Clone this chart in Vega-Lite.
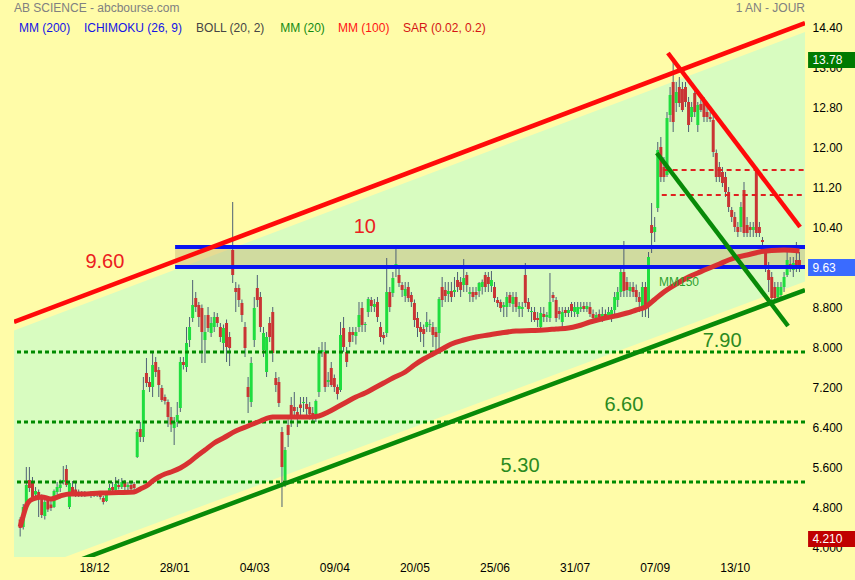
{
"$schema": "https://vega.github.io/schema/vega-lite/v6.json",
"width": 791, "height": 557,
"autosize": {"type": "none"},
"padding": {"left": 14, "top": 0, "right": 50, "bottom": 23},
"background": "#FFFCA8",
"config": {"view": {"stroke": null}, "font": "Liberation Sans", "axis": {"grid": false, "domain": false, "ticks": false, "labelFont": "Liberation Sans", "labelFontSize": 12, "labelColor": "#000000"}},
"resolve": {"axis": {"x": "independent", "y": "independent"}, "scale": {"color": "independent"}},
"datasets": {
"candles": [
{"i":0,"o":4.55,"h":4.6,"l":4.21,"c":4.38},{"i":1,"o":4.4,"h":4.86,"l":4.35,"c":4.8},{"i":2,"o":4.8,"h":5.6,"l":4.75,"c":5.24},{"i":3,"o":5.34,"h":5.6,"l":5.1,"c":5.18},{"i":4,"o":5.3,"h":5.4,"l":4.95,"c":5.0},{"i":5,"o":5.05,"h":5.2,"l":5.0,"c":5.12},{"i":6,"o":5.1,"h":5.15,"l":4.6,"c":4.95},{"i":7,"o":5.0,"h":5.05,"l":4.58,"c":4.64},{"i":8,"o":4.62,"h":4.95,"l":4.55,"c":4.9},{"i":9,"o":4.95,"h":5.0,"l":4.7,"c":4.75},
{"i":10,"o":4.85,"h":4.92,"l":4.72,"c":4.78},{"i":11,"o":4.8,"h":5.15,"l":4.78,"c":5.12},{"i":12,"o":5.1,"h":5.3,"l":5.05,"c":5.2},{"i":13,"o":5.18,"h":5.35,"l":5.1,"c":5.25},{"i":14,"o":5.3,"h":5.62,"l":5.25,"c":5.34},{"i":15,"o":5.56,"h":5.64,"l":5.2,"c":5.24},{"i":16,"o":4.8,"h":5.3,"l":4.76,"c":5.28},{"i":17,"o":5.2,"h":5.32,"l":5.05,"c":5.1},{"i":18,"o":5.15,"h":5.32,"l":5.0,"c":5.05},{"i":19,"o":5.1,"h":5.15,"l":5.0,"c":5.05},
{"i":20,"o":5.05,"h":5.12,"l":5.0,"c":5.08},{"i":21,"o":5.08,"h":5.12,"l":5.0,"c":5.05},{"i":22,"o":5.05,"h":5.1,"l":5.02,"c":5.07},{"i":23,"o":5.08,"h":5.12,"l":4.98,"c":5.02},{"i":24,"o":5.02,"h":5.1,"l":5.0,"c":5.06},{"i":25,"o":5.06,"h":5.1,"l":5.0,"c":5.04},{"i":26,"o":5.04,"h":5.08,"l":4.95,"c":5.0},{"i":27,"o":4.98,"h":5.02,"l":4.85,"c":4.9},{"i":28,"o":4.92,"h":5.12,"l":4.9,"c":5.1},{"i":29,"o":5.1,"h":5.26,"l":5.05,"c":5.18},
{"i":30,"o":5.2,"h":5.3,"l":5.1,"c":5.14},{"i":31,"o":5.14,"h":5.4,"l":5.1,"c":5.26},{"i":32,"o":5.24,"h":5.36,"l":5.15,"c":5.2},{"i":33,"o":5.2,"h":5.38,"l":5.16,"c":5.3},{"i":34,"o":5.3,"h":5.34,"l":5.1,"c":5.2},{"i":35,"o":5.2,"h":5.3,"l":5.12,"c":5.24},{"i":36,"o":5.24,"h":5.3,"l":5.1,"c":5.16},{"i":37,"o":5.26,"h":5.3,"l":5.12,"c":5.18},{"i":38,"o":5.8,"h":6.36,"l":5.78,"c":6.3},{"i":39,"o":6.36,"h":6.5,"l":6.1,"c":6.2},
{"i":40,"o":6.2,"h":7.4,"l":6.1,"c":7.14},{"i":41,"o":7.48,"h":7.78,"l":7.2,"c":7.28},{"i":42,"o":7.3,"h":7.4,"l":7.1,"c":7.2},{"i":43,"o":7.2,"h":7.9,"l":7.0,"c":7.64},{"i":44,"o":7.7,"h":7.8,"l":7.4,"c":7.5},{"i":45,"o":7.54,"h":7.6,"l":7.0,"c":7.24},{"i":46,"o":7.18,"h":7.24,"l":6.9,"c":6.94},{"i":47,"o":7.0,"h":7.05,"l":6.85,"c":6.92},{"i":48,"o":6.9,"h":6.95,"l":6.4,"c":6.6},{"i":49,"o":6.6,"h":6.8,"l":6.3,"c":6.45},
{"i":50,"o":6.38,"h":6.6,"l":6.04,"c":6.5},{"i":51,"o":6.5,"h":6.9,"l":6.4,"c":6.64},{"i":52,"o":6.78,"h":7.8,"l":6.7,"c":7.7},{"i":53,"o":7.7,"h":7.8,"l":7.55,"c":7.64},{"i":54,"o":7.6,"h":8.4,"l":7.5,"c":8.08},{"i":55,"o":8.14,"h":8.6,"l":8.0,"c":8.4},{"i":56,"o":8.58,"h":9.34,"l":8.5,"c":8.84},{"i":57,"o":8.98,"h":9.1,"l":8.7,"c":8.8},{"i":58,"o":8.84,"h":8.9,"l":8.4,"c":8.6},{"i":59,"o":8.78,"h":8.85,"l":7.68,"c":8.3},
{"i":60,"o":8.14,"h":8.64,"l":7.68,"c":8.3},{"i":61,"o":8.64,"h":8.8,"l":8.3,"c":8.38},{"i":62,"o":8.28,"h":8.6,"l":8.2,"c":8.48},{"i":63,"o":8.4,"h":8.7,"l":8.3,"c":8.6},{"i":64,"o":8.6,"h":8.68,"l":8.4,"c":8.48},{"i":65,"o":8.4,"h":8.48,"l":8.1,"c":8.2},{"i":66,"o":8.08,"h":8.45,"l":7.9,"c":8.38},{"i":67,"o":8.48,"h":8.55,"l":7.7,"c":8.0},{"i":68,"o":8.2,"h":8.3,"l":7.62,"c":7.98},{"i":69,"o":9.94,"h":10.9,"l":9.28,"c":9.44},
{"i":70,"o":9.18,"h":9.3,"l":8.7,"c":9.1},{"i":71,"o":9.18,"h":9.25,"l":8.8,"c":8.94},{"i":72,"o":8.88,"h":8.95,"l":8.5,"c":8.64},{"i":73,"o":8.4,"h":8.5,"l":7.8,"c":7.98},{"i":74,"o":7.2,"h":7.4,"l":6.68,"c":7.0},{"i":75,"o":6.9,"h":7.8,"l":6.8,"c":7.68},{"i":76,"o":8.14,"h":9.0,"l":8.0,"c":8.78},{"i":77,"o":9.18,"h":9.44,"l":8.8,"c":8.94},{"i":78,"o":9.0,"h":9.1,"l":8.3,"c":8.4},{"i":79,"o":7.94,"h":8.4,"l":7.8,"c":8.28},
{"i":80,"o":7.5,"h":8.3,"l":7.4,"c":8.2},{"i":81,"o":8.48,"h":8.6,"l":8.1,"c":8.2},{"i":82,"o":8.7,"h":8.8,"l":7.7,"c":7.88},{"i":83,"o":7.38,"h":7.5,"l":7.1,"c":7.24},{"i":84,"o":7.3,"h":7.4,"l":6.8,"c":6.88},{"i":85,"o":6.3,"h":6.4,"l":4.8,"c":5.6},{"i":86,"o":5.34,"h":6.0,"l":5.2,"c":5.94},{"i":87,"o":6.44,"h":6.55,"l":6.0,"c":6.24},{"i":88,"o":6.84,"h":7.0,"l":6.4,"c":6.58},{"i":89,"o":6.8,"h":7.1,"l":6.6,"c":6.72},
{"i":90,"o":6.7,"h":6.8,"l":6.4,"c":6.62},{"i":91,"o":6.85,"h":7.0,"l":6.6,"c":6.78},{"i":92,"o":6.88,"h":7.0,"l":6.7,"c":6.9},{"i":93,"o":6.86,"h":7.0,"l":6.6,"c":6.76},{"i":94,"o":6.8,"h":6.9,"l":6.55,"c":6.66},{"i":95,"o":6.68,"h":6.8,"l":6.5,"c":6.6},{"i":96,"o":6.64,"h":6.95,"l":6.5,"c":6.92},{"i":97,"o":7.1,"h":8.0,"l":7.0,"c":7.88},{"i":98,"o":7.9,"h":8.1,"l":7.8,"c":7.94},{"i":99,"o":7.9,"h":8.1,"l":7.1,"c":7.2},
{"i":100,"o":7.3,"h":7.5,"l":7.2,"c":7.34},{"i":101,"o":7.58,"h":7.7,"l":7.2,"c":7.24},{"i":102,"o":7.38,"h":7.45,"l":7.1,"c":7.2},{"i":103,"o":7.2,"h":7.25,"l":6.95,"c":7.06},{"i":104,"o":7.14,"h":8.5,"l":7.1,"c":8.24},{"i":105,"o":8.38,"h":8.6,"l":7.9,"c":8.0},{"i":106,"o":7.9,"h":8.0,"l":7.6,"c":7.7},{"i":107,"o":8.3,"h":8.4,"l":8.0,"c":8.1},{"i":108,"o":8.3,"h":8.4,"l":8.1,"c":8.24},{"i":109,"o":8.22,"h":8.4,"l":8.05,"c":8.3},
{"i":110,"o":8.4,"h":8.9,"l":8.3,"c":8.64},{"i":111,"o":8.78,"h":8.9,"l":8.3,"c":8.44},{"i":112,"o":8.44,"h":8.5,"l":8.3,"c":8.46},{"i":113,"o":8.7,"h":9.0,"l":8.6,"c":8.96},{"i":114,"o":8.94,"h":9.0,"l":8.7,"c":8.82},{"i":115,"o":8.8,"h":8.96,"l":8.7,"c":8.86},{"i":116,"o":8.9,"h":9.0,"l":8.5,"c":8.6},{"i":117,"o":8.4,"h":8.5,"l":8.1,"c":8.2},{"i":118,"o":8.24,"h":8.3,"l":8.05,"c":8.18},{"i":119,"o":8.28,"h":9.78,"l":8.2,"c":9.1},
{"i":120,"o":9.1,"h":9.2,"l":8.7,"c":8.8},{"i":121,"o":9.08,"h":9.5,"l":9.0,"c":9.38},{"i":122,"o":9.6,"h":9.98,"l":9.4,"c":9.66},{"i":123,"o":9.44,"h":9.6,"l":9.2,"c":9.28},{"i":124,"o":9.24,"h":9.3,"l":9.0,"c":9.14},{"i":125,"o":9.02,"h":9.3,"l":8.9,"c":9.16},{"i":126,"o":9.2,"h":9.3,"l":8.9,"c":8.98},{"i":127,"o":9.04,"h":9.1,"l":8.8,"c":8.9},{"i":128,"o":8.88,"h":8.95,"l":8.4,"c":8.54},{"i":129,"o":8.58,"h":8.7,"l":8.2,"c":8.38},
{"i":130,"o":8.4,"h":8.5,"l":8.1,"c":8.3},{"i":131,"o":8.36,"h":8.45,"l":8.0,"c":8.26},{"i":132,"o":8.4,"h":8.7,"l":8.3,"c":8.5},{"i":133,"o":8.44,"h":8.55,"l":8.3,"c":8.46},{"i":134,"o":8.4,"h":8.5,"l":8.0,"c":8.24},{"i":135,"o":8.3,"h":8.4,"l":7.9,"c":8.2},{"i":136,"o":8.28,"h":9.0,"l":7.9,"c":8.96},{"i":137,"o":9.2,"h":9.4,"l":8.8,"c":8.94},{"i":138,"o":9.14,"h":9.3,"l":8.9,"c":9.02},{"i":139,"o":9.06,"h":9.3,"l":8.9,"c":9.12},
{"i":140,"o":9.12,"h":9.3,"l":8.9,"c":9.0},{"i":141,"o":9.1,"h":9.4,"l":9.0,"c":9.14},{"i":142,"o":9.34,"h":9.5,"l":9.1,"c":9.2},{"i":143,"o":9.3,"h":9.4,"l":9.0,"c":9.14},{"i":144,"o":9.24,"h":9.76,"l":9.1,"c":9.38},{"i":145,"o":9.44,"h":9.5,"l":9.1,"c":9.24},{"i":146,"o":9.06,"h":9.2,"l":8.9,"c":9.1},{"i":147,"o":9.1,"h":9.2,"l":8.9,"c":9.0},{"i":148,"o":9.1,"h":9.2,"l":8.95,"c":9.04},{"i":149,"o":9.12,"h":9.3,"l":9.0,"c":9.28},
{"i":150,"o":9.2,"h":9.35,"l":9.05,"c":9.3},{"i":151,"o":9.44,"h":9.5,"l":9.1,"c":9.2},{"i":152,"o":9.4,"h":9.5,"l":9.1,"c":9.26},{"i":153,"o":9.22,"h":9.52,"l":9.1,"c":9.34},{"i":154,"o":9.2,"h":9.3,"l":8.9,"c":8.98},{"i":155,"o":8.94,"h":9.0,"l":8.8,"c":8.88},{"i":156,"o":8.9,"h":8.95,"l":8.7,"c":8.78},{"i":157,"o":8.8,"h":8.9,"l":8.6,"c":8.84},{"i":158,"o":8.8,"h":9.1,"l":8.6,"c":9.0},{"i":159,"o":9.04,"h":9.1,"l":8.8,"c":8.88},
{"i":160,"o":8.86,"h":9.1,"l":8.7,"c":9.0},{"i":161,"o":9.0,"h":9.1,"l":8.7,"c":8.8},{"i":162,"o":8.76,"h":8.9,"l":8.6,"c":8.82},{"i":163,"o":8.76,"h":8.9,"l":8.6,"c":8.8},{"i":164,"o":9.44,"h":9.68,"l":8.8,"c":8.88},{"i":165,"o":8.9,"h":8.98,"l":8.7,"c":8.76},{"i":166,"o":8.7,"h":8.8,"l":8.5,"c":8.72},{"i":167,"o":8.7,"h":8.8,"l":8.5,"c":8.54},{"i":168,"o":8.58,"h":8.7,"l":8.4,"c":8.54},{"i":169,"o":8.4,"h":8.8,"l":8.3,"c":8.68},
{"i":170,"o":8.66,"h":8.8,"l":8.5,"c":8.6},{"i":171,"o":8.6,"h":8.7,"l":8.5,"c":8.64},{"i":172,"o":8.58,"h":9.48,"l":8.5,"c":8.9},{"i":173,"o":9.04,"h":9.1,"l":8.9,"c":8.98},{"i":174,"o":8.94,"h":9.0,"l":8.5,"c":8.58},{"i":175,"o":8.72,"h":8.8,"l":8.55,"c":8.66},{"i":176,"o":8.5,"h":8.8,"l":8.4,"c":8.7},{"i":177,"o":8.74,"h":8.8,"l":8.6,"c":8.68},{"i":178,"o":8.68,"h":8.8,"l":8.6,"c":8.74},{"i":179,"o":8.86,"h":8.9,"l":8.6,"c":8.72},
{"i":180,"o":8.7,"h":8.9,"l":8.6,"c":8.8},{"i":181,"o":8.66,"h":8.9,"l":8.6,"c":8.8},{"i":182,"o":8.76,"h":8.9,"l":8.7,"c":8.8},{"i":183,"o":8.82,"h":8.9,"l":8.7,"c":8.76},{"i":184,"o":8.76,"h":8.9,"l":8.7,"c":8.82},{"i":185,"o":8.8,"h":8.9,"l":8.6,"c":8.66},{"i":186,"o":8.66,"h":8.75,"l":8.5,"c":8.58},{"i":187,"o":8.56,"h":8.7,"l":8.5,"c":8.64},{"i":188,"o":8.66,"h":8.75,"l":8.55,"c":8.6},{"i":189,"o":8.6,"h":8.8,"l":8.5,"c":8.66},
{"i":190,"o":8.66,"h":8.75,"l":8.55,"c":8.58},{"i":191,"o":8.6,"h":8.8,"l":8.55,"c":8.7},{"i":192,"o":8.64,"h":8.8,"l":8.5,"c":8.74},{"i":193,"o":8.74,"h":9.1,"l":8.6,"c":9.0},{"i":194,"o":8.94,"h":9.2,"l":8.8,"c":9.1},{"i":195,"o":9.1,"h":9.6,"l":9.0,"c":9.5},{"i":196,"o":9.5,"h":10.12,"l":9.0,"c":9.12},{"i":197,"o":9.3,"h":9.4,"l":9.0,"c":9.14},{"i":198,"o":9.12,"h":9.3,"l":9.0,"c":9.2},{"i":199,"o":9.2,"h":9.3,"l":9.0,"c":9.1},
{"i":200,"o":9.14,"h":9.25,"l":8.9,"c":9.0},{"i":201,"o":9.0,"h":9.1,"l":8.7,"c":8.9},{"i":202,"o":8.78,"h":9.3,"l":8.6,"c":9.2},{"i":203,"o":9.2,"h":9.3,"l":8.6,"c":8.84},{"i":204,"o":8.84,"h":9.9,"l":8.58,"c":9.8},{"i":205,"o":10.44,"h":10.88,"l":9.88,"c":10.28},{"i":206,"o":10.3,"h":10.6,"l":10.1,"c":10.4},{"i":207,"o":10.78,"h":12.1,"l":10.7,"c":11.94},{"i":208,"o":12.0,"h":12.2,"l":11.3,"c":11.4},{"i":209,"o":11.6,"h":11.8,"l":11.3,"c":11.4},
{"i":210,"o":11.44,"h":12.7,"l":11.4,"c":12.58},{"i":211,"o":12.64,"h":13.2,"l":12.5,"c":13.04},{"i":212,"o":13.3,"h":13.78,"l":12.3,"c":12.5},{"i":213,"o":12.88,"h":13.3,"l":12.7,"c":13.1},{"i":214,"o":13.2,"h":13.4,"l":12.8,"c":12.88},{"i":215,"o":13.16,"h":13.3,"l":12.7,"c":12.74},{"i":216,"o":13.2,"h":13.3,"l":12.8,"c":12.9},{"i":217,"o":12.9,"h":13.0,"l":12.3,"c":12.44},{"i":218,"o":12.6,"h":12.9,"l":12.5,"c":12.8},{"i":219,"o":13.08,"h":13.2,"l":12.6,"c":12.7},
{"i":220,"o":12.44,"h":12.9,"l":12.3,"c":12.84},{"i":221,"o":12.86,"h":12.95,"l":12.7,"c":12.74},{"i":222,"o":12.94,"h":13.0,"l":12.5,"c":12.6},{"i":223,"o":12.7,"h":12.8,"l":12.5,"c":12.6},{"i":224,"o":12.6,"h":12.7,"l":12.5,"c":12.56},{"i":225,"o":12.54,"h":12.7,"l":11.8,"c":11.9},{"i":226,"o":11.88,"h":11.95,"l":11.3,"c":11.4},{"i":227,"o":11.6,"h":11.7,"l":11.3,"c":11.4},{"i":228,"o":11.5,"h":11.6,"l":11.2,"c":11.28},{"i":229,"o":11.4,"h":11.5,"l":11.0,"c":11.1},
{"i":230,"o":11.1,"h":11.2,"l":10.7,"c":10.8},{"i":231,"o":10.74,"h":10.8,"l":10.5,"c":10.6},{"i":232,"o":10.6,"h":10.7,"l":10.3,"c":10.4},{"i":233,"o":10.4,"h":10.5,"l":10.2,"c":10.3},{"i":234,"o":10.4,"h":10.9,"l":10.3,"c":10.8},{"i":235,"o":11.14,"h":11.3,"l":10.2,"c":10.28},{"i":236,"o":10.44,"h":10.6,"l":10.2,"c":10.28},{"i":237,"o":10.4,"h":10.5,"l":10.2,"c":10.34},{"i":238,"o":10.34,"h":10.5,"l":10.2,"c":10.4},{"i":239,"o":11.54,"h":11.6,"l":10.2,"c":10.28},
{"i":240,"o":10.4,"h":10.5,"l":10.2,"c":10.28},{"i":241,"o":10.14,"h":10.2,"l":10.0,"c":10.1},{"i":242,"o":9.88,"h":10.0,"l":9.5,"c":9.6},{"i":243,"o":9.54,"h":9.7,"l":9.1,"c":9.34},{"i":244,"o":9.4,"h":9.5,"l":8.9,"c":8.98},{"i":245,"o":9.2,"h":9.3,"l":8.9,"c":8.98},{"i":246,"o":9.0,"h":9.3,"l":8.9,"c":9.2},{"i":247,"o":9.04,"h":9.3,"l":8.95,"c":9.2},{"i":248,"o":9.2,"h":9.5,"l":9.1,"c":9.4},{"i":249,"o":9.44,"h":9.9,"l":9.4,"c":9.74},
{"i":250,"o":9.66,"h":9.8,"l":9.5,"c":9.56},{"i":251,"o":9.54,"h":9.8,"l":9.4,"c":9.68},{"i":252,"o":9.74,"h":10.1,"l":9.5,"c":9.6},{"i":253,"o":9.74,"h":9.9,"l":9.5,"c":9.63}
],
"mm": [
{"i":0,"v":4.4},{"i":1,"v":4.62},{"i":2,"v":4.82},{"i":3,"v":4.92},{"i":5,"v":4.98},{"i":7,"v":5.0},{"i":10,"v":4.96},{"i":13,"v":5.02},{"i":16,"v":5.06},{"i":20,"v":5.06},{"i":26,"v":5.08},{"i":32,"v":5.09},{"i":37,"v":5.1},{"i":39,"v":5.16},{"i":41,"v":5.22},{"i":43,"v":5.32},{"i":45,"v":5.4},{"i":47,"v":5.46},{"i":49,"v":5.5},{"i":52,"v":5.58},{"i":55,"v":5.7},{"i":57,"v":5.8},{"i":60,"v":5.94},{"i":63,"v":6.08},{"i":66,"v":6.18},{"i":70,"v":6.32},{"i":74,"v":6.42},{"i":78,"v":6.52},{"i":82,"v":6.6},{"i":86,"v":6.6},{"i":90,"v":6.6},{"i":94,"v":6.6},{"i":97,"v":6.62},{"i":100,"v":6.7},{"i":103,"v":6.8},{"i":106,"v":6.9},{"i":109,"v":7.0},{"i":112,"v":7.08},{"i":115,"v":7.18},{"i":118,"v":7.28},{"i":121,"v":7.38},{"i":125,"v":7.5},{"i":128,"v":7.64},{"i":131,"v":7.76},{"i":134,"v":7.86},{"i":137,"v":7.96},{"i":140,"v":8.06},{"i":144,"v":8.14},{"i":148,"v":8.2},{"i":152,"v":8.24},{"i":156,"v":8.28},{"i":161,"v":8.32},{"i":166,"v":8.33},{"i":170,"v":8.34},{"i":174,"v":8.36},{"i":178,"v":8.38},{"i":181,"v":8.42},{"i":185,"v":8.5},{"i":190,"v":8.58},{"i":194,"v":8.63},{"i":197,"v":8.68},{"i":200,"v":8.74},{"i":203,"v":8.8},{"i":206,"v":8.95},{"i":209,"v":9.1},{"i":213,"v":9.26},{"i":217,"v":9.4},{"i":220,"v":9.48},{"i":223,"v":9.56},{"i":227,"v":9.66},{"i":230,"v":9.74},{"i":233,"v":9.8},{"i":236,"v":9.84},{"i":240,"v":9.9},{"i":244,"v":9.93},{"i":248,"v":9.94},{"i":253,"v":9.92}
],
"fill": [{"i":-2,"top":8.33,"bot":3.42},{"i":254.8,"top":14.3,"bot":9.31}],
"band": [{"a":50.3,"b":254.8,"lo":9.6,"hi":10.0}],
"blue": [{"a":50.3,"b":254.8,"lvl":10.0},{"a":50.3,"b":254.8,"lvl":9.6}],
"greendash": [{"lvl":7.9},{"lvl":6.5},{"lvl":5.3}],
"reddash": [{"a":208.9,"b":254.8,"lvl":11.54},{"a":208.3,"b":254.8,"lvl":11.04}],
"redlines": [{"a":-2,"pa":8.5,"b":254.8,"pb":14.48},{"a":210.3,"pa":13.88,"b":253.2,"pb":10.4}],
"greenlines": [{"a":-2,"pa":3.25,"b":254.8,"pb":9.14},{"a":206.7,"pa":11.88,"b":249.3,"pb":8.42}],
"redtext": [{"t":"9.60","x":27.5,"y":9.7},{"t":"10","x":111.9,"y":10.4}],
"greentext": [{"t":"7.90","x":227.9,"y":8.12},{"t":"6.60","x":196,"y":6.84},{"t":"5.30","x":162.3,"y":5.62}],
"mm150": [{"t":"MM150","x":213.9,"y":9.3}],
"header": [{"t":"AB SCIENCE - abcbourse.com","x":-2,"y":14.78},{"t":"MM (200)","x":-0.4,"y":14.38},{"t":"ICHIMOKU (26, 9)","x":20.7,"y":14.38},{"t":"BOLL (20, 2)","x":57.1,"y":14.38},{"t":"MM (20)","x":84.4,"y":14.38},{"t":"MM (100)","x":103.2,"y":14.38},{"t":"SAR (0.02, 0.2)","x":124.3,"y":14.38}],
"period": [{"t":"1 AN - JOUR","x":254.8,"y":14.78}],
"boxes": [{"label":"13.78","hi":13.9,"lo":13.58,"mid":13.74},{"label":"9.63","hi":9.76,"lo":9.42,"mid":9.59},{"label":"4.210","hi":4.32,"lo":4.0,"mid":4.16}]
},
"layer": [
{"data":{"name":"fill"},"mark":{"type":"area","color":"#D8FCC0","clip":true},
 "encoding":{
  "x":{"field":"i","type":"quantitative","scale":{"domain":[-2,254.8],"nice":false,"zero":false,"padding":0},
   "axis":{"orient":"bottom","title":null,"values":[24,50,76,102,128,154,180,206,232],"labelPadding":5,
    "labelExpr":"datum.value==24?'18/12':datum.value==50?'28/01':datum.value==76?'04/03':datum.value==102?'09/04':datum.value==128?'20/05':datum.value==154?'25/06':datum.value==180?'31/07':datum.value==206?'07/09':'13/10'"}},
  "y":{"field":"top","type":"quantitative","scale":{"domain":[3.8,14.94],"nice":false,"zero":false,"padding":0},
   "axis":{"orient":"right","title":null,"values":[4,4.8,5.6,6.4,7.2,8,8.8,9.6,10.4,11.2,12,12.8,13.6,14.4],"labelPadding":7,"labelAlign":"left",
    "labelExpr":"datum.value >= 10 ? format(datum.value, '.2f') : format(datum.value, '.3f')"}},
  "y2":{"field":"bot"}}},
{"data":{"name":"band"},"mark":{"type":"rect","color":"#C8B478","opacity":0.45},
 "encoding":{"x":{"field":"a","type":"quantitative","axis":null},"x2":{"field":"b"},"y":{"field":"hi","type":"quantitative","axis":null},"y2":{"field":"lo"}}},
{"data":{"name":"candles"},"mark":{"type":"rule","color":"#4E6074","strokeWidth":1},
 "encoding":{"x":{"field":"i","type":"quantitative","axis":null},"y":{"field":"l","type":"quantitative","axis":null},"y2":{"field":"h"}}},
{"data":{"name":"candles"},"mark":{"type":"bar","size":3},
 "encoding":{"x":{"field":"i","type":"quantitative","axis":null},"y":{"field":"o","type":"quantitative","axis":null},"y2":{"field":"c"},
  "color":{"condition":{"test":"datum.c >= datum.o","value":"#1FDD3F"},"value":"#C93434"}}},
{"data":{"name":"greendash"},"mark":{"type":"rule","color":"#008A00","strokeWidth":3,"strokeDash":[4,3]},
 "encoding":{"y":{"field":"lvl","type":"quantitative","axis":null}}},
{"data":{"name":"reddash"},"mark":{"type":"rule","color":"#E02020","strokeWidth":2,"strokeDash":[5,4]},
 "encoding":{"x":{"field":"a","type":"quantitative","axis":null},"x2":{"field":"b"},"y":{"field":"lvl","type":"quantitative","axis":null}}},
{"data":{"name":"blue"},"mark":{"type":"rule","color":"#0A14F0","strokeWidth":4},
 "encoding":{"x":{"field":"a","type":"quantitative","axis":null},"x2":{"field":"b"},"y":{"field":"lvl","type":"quantitative","axis":null}}},
{"data":{"name":"mm"},"mark":{"type":"line","color":"#D83232","strokeWidth":5,"interpolate":"monotone","clip":true},
 "encoding":{"x":{"field":"i","type":"quantitative","axis":null},"y":{"field":"v","type":"quantitative","axis":null}}},
{"data":{"name":"redlines"},"mark":{"type":"rule","color":"#FF0A0A","strokeWidth":4.5,"clip":true},
 "encoding":{"x":{"field":"a","type":"quantitative","axis":null},"x2":{"field":"b"},"y":{"field":"pa","type":"quantitative","axis":null},"y2":{"field":"pb"}}},
{"data":{"name":"greenlines"},"mark":{"type":"rule","color":"#088A08","strokeWidth":4.5,"clip":true},
 "encoding":{"x":{"field":"a","type":"quantitative","axis":null},"x2":{"field":"b"},"y":{"field":"pa","type":"quantitative","axis":null},"y2":{"field":"pb"}}},
{"data":{"name":"redtext"},"mark":{"type":"text","color":"#EC2020","fontSize":20,"font":"Liberation Sans"},
 "encoding":{"x":{"field":"x","type":"quantitative","axis":null},"y":{"field":"y","type":"quantitative","axis":null},"text":{"field":"t"}}},
{"data":{"name":"greentext"},"mark":{"type":"text","color":"#2B8A1E","fontSize":20,"font":"Liberation Sans"},
 "encoding":{"x":{"field":"x","type":"quantitative","axis":null},"y":{"field":"y","type":"quantitative","axis":null},"text":{"field":"t"}}},
{"data":{"name":"mm150"},"mark":{"type":"text","color":"#2EA02E","fontSize":12,"font":"Liberation Sans"},
 "encoding":{"x":{"field":"x","type":"quantitative","axis":null},"y":{"field":"y","type":"quantitative","axis":null},"text":{"field":"t"}}},
{"data":{"name":"header"},"mark":{"type":"text","align":"left","fontSize":12,"font":"Liberation Sans","clip":false},
 "encoding":{"x":{"field":"x","type":"quantitative","axis":null},"y":{"field":"y","type":"quantitative","axis":null},"text":{"field":"t"},
  "color":{"field":"t","type":"nominal","legend":null,"scale":{"domain":["AB SCIENCE - abcbourse.com","MM (200)","ICHIMOKU (26, 9)","BOLL (20, 2)","MM (20)","MM (100)","SAR (0.02, 0.2)"],"range":["#808080","#1414E6","#1414E6","#454545","#128A12","#FF1414","#D41414"]}}}},
{"data":{"name":"period"},"mark":{"type":"text","align":"right","fontSize":12,"font":"Liberation Sans","color":"#808080"},
 "encoding":{"x":{"field":"x","type":"quantitative","axis":null},"y":{"field":"y","type":"quantitative","axis":null},"text":{"field":"t"}}},
{"data":{"name":"boxes"},"mark":{"type":"rect","clip":false},
 "encoding":{"x":{"datum":255.8,"type":"quantitative","axis":null},"x2":{"datum":271.5},"y":{"field":"hi","type":"quantitative","axis":null},"y2":{"field":"lo"},
  "color":{"field":"label","type":"nominal","legend":null,"scale":{"domain":["13.78","9.63","4.210"],"range":["#007A00","#3A6BFF","#C00000"]}}}},
{"data":{"name":"boxes"},"mark":{"type":"text","align":"left","fontSize":12,"font":"Liberation Sans","color":"#FFFFFF","clip":false},
 "encoding":{"x":{"datum":257.2,"type":"quantitative","axis":null},"y":{"field":"mid","type":"quantitative","axis":null},"text":{"field":"label"}}}
]
}
